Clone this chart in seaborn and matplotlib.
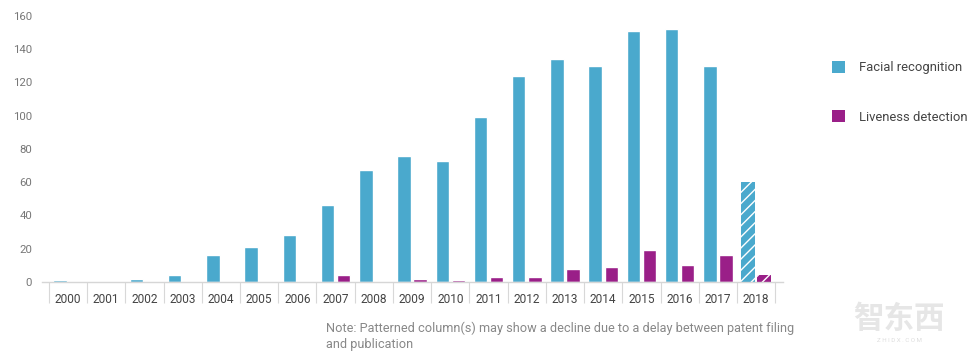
import matplotlib
matplotlib.use("Agg")
import matplotlib.pyplot as plt
import seaborn as sns
import pandas as pd
from matplotlib.patches import Patch

years = [str(y) for y in range(2000, 2019)]
facial_recognition = [1, 0, 2, 4, 16, 21, 28, 46, 67, 76, 73, 99, 124, 134, 130, 151, 152, 130, 60]
liveness_detection = [0, 0, 0, 0, 0, 0, 0, 4, 0, 2, 1, 3, 3, 8, 9, 19, 10, 16, 4]
series_names = ["Facial recognition", "Liveness detection"]
y_ticks = [0, 20, 40, 60, 80, 100, 120, 140, 160]
note_text = ("Note: Patterned column(s) may show a decline due to a delay between patent filing\n"
             "and publication")

BLUE = "#4aa9cd"
PURPLE = "#9a1f88"

df = pd.DataFrame({
    "year": years * 2,
    "count": facial_recognition + liveness_detection,
    "series": [series_names[0]] * len(years) + [series_names[1]] * len(years),
})

sns.set_theme(style="white")
plt.rcParams["font.family"] = ["Roboto", "DejaVu Sans"]
plt.rcParams["hatch.linewidth"] = 1.0

fig = plt.figure(figsize=(9.69, 3.53), dpi=100)
ax = fig.add_axes([0.0433, 0.2011, 0.808 - 0.0433, 0.9555 - 0.2011])

sns.barplot(data=df, x="year", y="count", hue="series", order=years,
            hue_order=series_names, palette=[BLUE, PURPLE],
            width=0.84, gap=0.16, saturation=1, legend=False, ax=ax)

# the latest year is still incomplete: draw it patterned
for cont in ax.containers:
    last = cont.patches[-1]
    last.set_hatch("///")
    last.set_edgecolor("white")
    last.set_linewidth(0)

ax.set_xlim(-0.68, 18.7)
ax.set_ylim(0, 160)
ax.set_yticks(y_ticks)
ax.set_xlabel("")
ax.set_ylabel("")

for side in ["left", "right", "top"]:
    ax.spines[side].set_visible(False)
ax.spines["bottom"].set_color("#d6d6d6")
ax.spines["bottom"].set_linewidth(1.0)

ax.tick_params(axis="y", length=0, labelsize=8.2, labelcolor="#777777", pad=7)
ax.tick_params(axis="x", which="major", length=0, labelsize=8.6, labelcolor="#444444", pad=8)
ax.set_xticks([i - 0.5 for i in range(len(years) + 1)], minor=True)
ax.tick_params(axis="x", which="minor", bottom=True, length=15, width=0.8,
               color="#d8d8d8", direction="out")

handles = [Patch(facecolor=BLUE, edgecolor="none"), Patch(facecolor=PURPLE, edgecolor="none")]
fig.legend(handles, series_names, loc="upper left", bbox_to_anchor=(0.846, 0.86),
           frameon=False, fontsize=9.4, labelcolor="#444444", handlelength=1.0,
           handleheight=1.0, handletextpad=1.1, labelspacing=2.75)

fig.text(0.336, 0.015, note_text, fontsize=9.2, color="#888888", linespacing=1.25)

fig.text(0.928, 0.07, "智东西", fontsize=22, color="#e6e6e6", ha="center",
         family=["Noto Sans CJK SC", "DejaVu Sans"], weight="bold")
fig.text(0.928, 0.03, "Z H I D X . C O M", fontsize=4.5, color="#dddddd", ha="center")

fig.savefig("out.png", dpi=100)
